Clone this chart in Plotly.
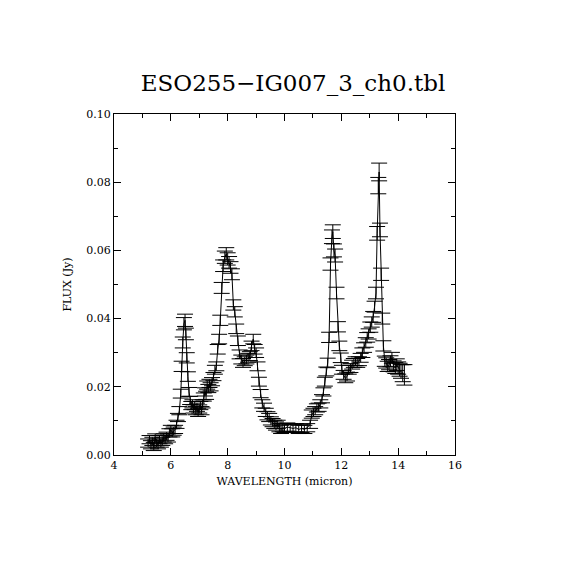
import plotly.graph_objects as go

wavelength = [5.20, 5.25, 5.30, 5.35, 5.40, 5.45, 5.50, 5.55, 5.60, 5.65, 5.70, 5.75, 5.80, 5.85, 5.90, 5.95,
              6.00, 6.05, 6.10, 6.15, 6.20, 6.25, 6.30, 6.35, 6.38, 6.42, 6.46, 6.50, 6.53, 6.56, 6.60, 6.64,
              6.68, 6.72, 6.76, 6.80, 6.84, 6.88, 6.92, 6.96, 7.00, 7.04, 7.08, 7.12, 7.16, 7.20, 7.24, 7.28,
              7.32, 7.36, 7.40, 7.45, 7.50, 7.55, 7.60, 7.65, 7.70, 7.74, 7.79, 7.84, 7.90, 7.95, 8.00, 8.05,
              8.10, 8.15, 8.20, 8.25, 8.30, 8.36, 8.42, 8.48, 8.54, 8.60, 8.66, 8.72, 8.78, 8.84, 8.90, 8.95,
              9.00, 9.05, 9.10, 9.16, 9.22, 9.28, 9.34, 9.40, 9.46, 9.52, 9.58, 9.64, 9.70, 9.76, 9.82, 9.88,
              9.94, 10.00, 10.10, 10.20, 10.30, 10.40, 10.50, 10.60, 10.70, 10.80, 10.90, 10.96, 11.02, 11.08,
              11.14, 11.20, 11.26, 11.32, 11.37, 11.42, 11.47, 11.52, 11.57, 11.62, 11.67, 11.70, 11.74, 11.78,
              11.83, 11.88, 11.93, 11.98, 12.02, 12.08, 12.14, 12.20, 12.26, 12.32, 12.38, 12.44, 12.50, 12.56,
              12.62, 12.68, 12.74, 12.80, 12.86, 12.91, 12.96, 13.02, 13.07, 13.12, 13.17, 13.22, 13.26, 13.30,
              13.33, 13.36, 13.40, 13.44, 13.48, 13.53, 13.58, 13.63, 13.68, 13.73, 13.78, 13.84, 13.90, 13.95,
              14.00, 14.05, 14.10, 14.16, 14.22]

flux = [0.0035, 0.0045, 0.0030, 0.0040, 0.0025, 0.0050, 0.0035, 0.0030, 0.0045, 0.0035, 0.0040, 0.0050, 0.0045, 0.0055, 0.0050, 0.0065,
        0.0075, 0.0065, 0.0070, 0.0075, 0.0090, 0.0110, 0.0130, 0.0180, 0.0260, 0.0330, 0.0385, 0.0395, 0.0355, 0.0285, 0.0230, 0.0185,
        0.0160, 0.0145, 0.0150, 0.0135, 0.0145, 0.0130, 0.0140, 0.0125, 0.0135, 0.0145, 0.0130, 0.0150, 0.0170, 0.0185, 0.0175, 0.0205,
        0.0195, 0.0210, 0.0200, 0.0215, 0.0230, 0.0250, 0.0260, 0.0310, 0.0340, 0.0395, 0.0490, 0.0555, 0.0580, 0.0590, 0.0575, 0.0565,
        0.0550, 0.0530, 0.0440, 0.0420, 0.0370, 0.0335, 0.0295, 0.0280, 0.0270, 0.0275, 0.0280, 0.0285, 0.0290, 0.0320, 0.0340, 0.0310,
        0.0300, 0.0260, 0.0215, 0.0180, 0.0150, 0.0140, 0.0125, 0.0115, 0.0110, 0.0100, 0.0095, 0.0090, 0.0085, 0.0090, 0.0080, 0.0075,
        0.0080, 0.0078, 0.0082, 0.0080, 0.0078, 0.0080, 0.0075, 0.0078, 0.0075, 0.0080, 0.0090, 0.0120, 0.0125, 0.0130,
        0.0138, 0.0140, 0.0150, 0.0165, 0.0185, 0.0215, 0.0245, 0.0270, 0.0345, 0.0560, 0.0640, 0.0655, 0.0600, 0.0585,
        0.0475, 0.0376, 0.0320, 0.0285, 0.0250, 0.0235, 0.0225, 0.0230, 0.0250, 0.0255, 0.0265, 0.0270, 0.0275, 0.0270,
        0.0275, 0.0285, 0.0300, 0.0315, 0.0330, 0.0345, 0.0355, 0.0375, 0.0390, 0.0405, 0.0435, 0.0475, 0.0650, 0.0790,
        0.0830, 0.0660, 0.0530, 0.0400, 0.0320, 0.0275, 0.0270, 0.0260, 0.0265, 0.0275, 0.0285, 0.0260, 0.0255, 0.0265,
        0.0255, 0.0250, 0.0245, 0.0240, 0.0235]

flux_err = [0.0012, 0.0012, 0.0012, 0.0012, 0.0012, 0.0012, 0.0012, 0.0012, 0.0012, 0.0012, 0.0012, 0.0012, 0.0012, 0.0012, 0.0012, 0.0012,
            0.0012, 0.0012, 0.0012, 0.0012, 0.0012, 0.0012, 0.0012, 0.0013, 0.0015, 0.0016, 0.0018, 0.0018, 0.0017, 0.0015, 0.0014, 0.0013,
            0.0012, 0.0012, 0.0012, 0.0012, 0.0012, 0.0012, 0.0012, 0.0012, 0.0012, 0.0012, 0.0012, 0.0012, 0.0012, 0.0012, 0.0012, 0.0012,
            0.0012, 0.0012, 0.0012, 0.0012, 0.0012, 0.0013, 0.0013, 0.0014, 0.0014, 0.0015, 0.0016, 0.0017, 0.0018, 0.0018, 0.0018, 0.0017,
            0.0017, 0.0016, 0.0015, 0.0015, 0.0014, 0.0014, 0.0013, 0.0013, 0.0013, 0.0013, 0.0013, 0.0013, 0.0013, 0.0014, 0.0014, 0.0014,
            0.0014, 0.0013, 0.0013, 0.0012, 0.0012, 0.0012, 0.0012, 0.0012, 0.0012, 0.0012, 0.0012, 0.0012, 0.0012, 0.0012, 0.0012, 0.0012,
            0.0012, 0.0012, 0.0012, 0.0012, 0.0012, 0.0012, 0.0012, 0.0012, 0.0012, 0.0012, 0.0012, 0.0012, 0.0012, 0.0012,
            0.0012, 0.0012, 0.0012, 0.0012, 0.0012, 0.0013, 0.0013, 0.0014, 0.0015, 0.0018, 0.0020, 0.0020, 0.0019, 0.0019,
            0.0017, 0.0015, 0.0014, 0.0014, 0.0013, 0.0013, 0.0013, 0.0013, 0.0013, 0.0013, 0.0013, 0.0013, 0.0013, 0.0013,
            0.0013, 0.0013, 0.0014, 0.0014, 0.0014, 0.0014, 0.0015, 0.0015, 0.0015, 0.0016, 0.0016, 0.0017, 0.0020, 0.0024,
            0.0026, 0.0020, 0.0018, 0.0016, 0.0015, 0.0015, 0.0015, 0.0015, 0.0015, 0.0016, 0.0016, 0.0016, 0.0016, 0.0017,
            0.0018, 0.0019, 0.0020, 0.0025, 0.0030]

title_text = "ESO255\u2212IG007_3_ch0.tbl"
x_label = "WAVELENGTH (micron)"
y_label = "FLUX (Jy)"

fig = go.Figure()
fig.add_trace(go.Scatter(
    x=wavelength, y=flux, mode="lines",
    line=dict(color="black", width=1),
    error_y=dict(type="data", array=flux_err, visible=True, color="black", thickness=1, width=8),
    showlegend=False,
))

axis_font = dict(family="DejaVu Serif", size=11, color="black")
fig.update_layout(
    width=570, height=570,
    margin=dict(l=106, r=123, t=106, b=123),
    paper_bgcolor="white", plot_bgcolor="white",
    title=dict(text=title_text, x=0.5, xanchor="center", y=0.868, yanchor="middle",
               font=dict(family="DejaVu Serif", size=23, color="black")),
)
fig.update_xaxes(
    range=[4, 16], dtick=2, tick0=4, ticks="inside", ticklen=7, tickcolor="black",
    showline=True, linecolor="black", linewidth=1, mirror="ticks", showgrid=False, zeroline=False,
    minor=dict(ticks="inside", ticklen=4, dtick=1, tickcolor="black", showgrid=False),
    tickfont=axis_font,
    title=dict(text=x_label, font=dict(family="DejaVu Serif", size=11, color="black"), standoff=6),
)
fig.update_yaxes(
    range=[0, 0.10], dtick=0.02, tick0=0, tickformat=".2f", ticks="inside", ticklen=7, tickcolor="black",
    showline=True, linecolor="black", linewidth=1, mirror="ticks", showgrid=False, zeroline=False,
    minor=dict(ticks="inside", ticklen=4, dtick=0.01, tickcolor="black", showgrid=False),
    tickfont=axis_font,
    title=dict(text=y_label, font=dict(family="DejaVu Serif", size=11, color="black"), standoff=12),
)

fig.write_html("out.html")
